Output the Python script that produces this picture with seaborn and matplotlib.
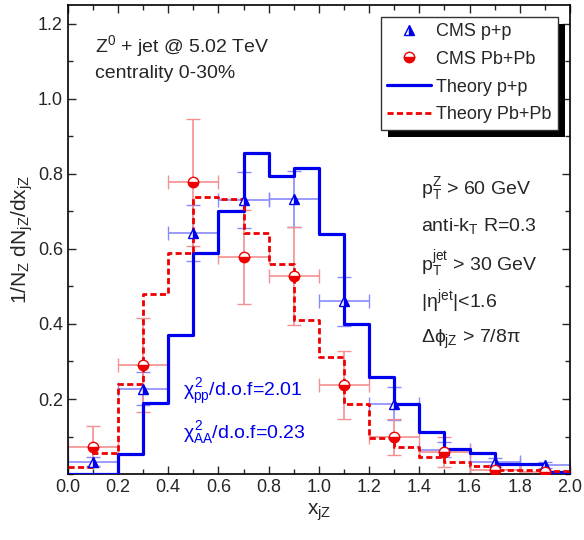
import numpy as np
import pandas as pd
import seaborn as sns
import matplotlib
matplotlib.use('Agg')
import matplotlib.pyplot as plt
from matplotlib.ticker import MultipleLocator
from matplotlib.patches import Rectangle

#========================= Data ===============================================
# theory histograms, bins of width 0.1 from 0 to 2
bin_edges = np.round(np.arange(0, 2.01, 0.1), 2)
theory_pp = [0.0, 0.0, 0.053, 0.19, 0.37, 0.59, 0.70, 0.855, 0.795, 0.815,
             0.64, 0.40, 0.26, 0.186, 0.113, 0.066, 0.055, 0.028, 0.028, 0.006]
theory_aa = [0.018, 0.057, 0.241, 0.479, 0.59, 0.738, 0.733, 0.643, 0.56, 0.41,
             0.312, 0.186, 0.096, 0.072, 0.045, 0.033, 0.021, 0.01, 0.01, 0.008]

# CMS data points
x_cms = [0.1, 0.3, 0.5, 0.7, 0.9, 1.1, 1.3, 1.5, 1.7, 1.9]
cms_pp = [0.033, 0.228, 0.643, 0.73, 0.733, 0.46, 0.188, 0.065, 0.033, 0.025]
cms_pp_err = [0.012, 0.045, 0.075, 0.075, 0.075, 0.065, 0.043, 0.02, 0.01, 0.008]
cms_aa = [0.073, 0.29, 0.777, 0.578, 0.527, 0.238, 0.099, 0.059, 0.01, 0.005]
cms_aa_err = [0.055, 0.125, 0.17, 0.125, 0.13, 0.09, 0.048, 0.04, 0.01, 0.006]

#========================= Plot ===============================================
sns.set_style('ticks')
plt.rcParams['font.family'] = ['Liberation Sans', 'DejaVu Sans']
plt.rcParams['mathtext.fontset'] = 'custom'
plt.rcParams['mathtext.rm'] = 'Liberation Sans'
plt.rcParams['mathtext.it'] = 'Liberation Sans'

fig = plt.figure(figsize=(5.84, 5.40), dpi=100)
ax = fig.add_axes([0.116, 0.122, 0.86, 0.869])

df_pp = pd.DataFrame({'x': bin_edges, 'y': theory_pp + [theory_pp[-1]]})
df_aa = pd.DataFrame({'x': bin_edges, 'y': theory_aa + [theory_aa[-1]]})

ax.errorbar(x_cms, cms_pp, xerr=0.1, yerr=cms_pp_err, fmt='none',
            ecolor='#8a8aff', elinewidth=1.2, capsize=5, zorder=2)
ax.errorbar(x_cms, cms_aa, xerr=0.1, yerr=cms_aa_err, fmt='none',
            ecolor='#f59090', elinewidth=1.2, capsize=5, zorder=2)

sns.lineplot(data=df_pp, x='x', y='y', drawstyle='steps-post', color='#0000ee',
             lw=2.3, ax=ax, label='Theory p+p', zorder=3)
sns.lineplot(data=df_aa, x='x', y='y', drawstyle='steps-post', color='#ee0000',
             lw=2.0, dashes=(2.2, 1.2), ax=ax, label='Theory Pb+Pb', zorder=4)

h_pp, = ax.plot(x_cms, cms_pp, ls='none', marker='^', ms=7.5, color='#0000ee',
                fillstyle='right', markerfacecoloralt='white', mew=1.0,
                label='CMS p+p', zorder=5)
h_aa, = ax.plot(x_cms, cms_aa, ls='none', marker='o', ms=7.5, color='#ee0000',
                fillstyle='bottom', markerfacecoloralt='white', mew=1.0,
                label='CMS Pb+Pb', zorder=5)

ax.set_xlim(0, 2.0)
ax.set_ylim(0, 1.25)
ax.xaxis.set_major_locator(MultipleLocator(0.2))
ax.xaxis.set_minor_locator(MultipleLocator(0.1))
ax.yaxis.set_major_locator(MultipleLocator(0.2))
ax.yaxis.set_minor_locator(MultipleLocator(0.1))
ax.set_yticks([0.2, 0.4, 0.6, 0.8, 1.0, 1.2])
ax.tick_params(which='both', direction='in', top=True, right=True, labelsize=13, width=1.0)
ax.tick_params(which='major', length=6)
ax.tick_params(which='minor', length=3.5)
for sp in ax.spines.values():
    sp.set_linewidth(1.2)
    sp.set_color('black')

ax.set_xlabel(r'x$_{\mathrm{jZ}}$', fontsize=15, labelpad=4)
ax.set_ylabel(r'1/N$_{\mathrm{Z}}$ dN$_{\mathrm{jZ}}$/dx$_{\mathrm{jZ}}$', fontsize=15, labelpad=2)

# annotations
ax.text(0.11, 1.14, r'Z$^{0}$ + jet @ 5.02 TeV', fontsize=14, va='center')
ax.text(0.11, 1.066, 'centrality 0-30%', fontsize=14, va='center')
right_txt = [r'p$_{\mathrm{T}}^{\mathrm{Z}}$ > 60 GeV',
             r'anti-k$_{\mathrm{T}}$ R=0.3',
             r'p$_{\mathrm{T}}^{\mathrm{jet}}$ > 30 GeV',
             r'|$\eta^{\mathrm{jet}}$|<1.6',
             r'$\Delta\phi_{\mathrm{jZ}}$ > 7/8$\pi$']
for i, t in enumerate(right_txt):
    ax.text(1.405, 0.76 - i*0.1, t, fontsize=14, va='center')
ax.text(0.46, 0.218, r'$\chi^{2}_{\mathrm{pp}}$/d.o.f=2.01', fontsize=14, va='center', color='#0000ee')
ax.text(0.46, 0.112, r'$\chi^{2}_{\mathrm{AA}}$/d.o.f=0.23', fontsize=14, va='center', color='#0000ee')

handles, labels = ax.get_legend_handles_labels()
order = [labels.index(l) for l in ['CMS p+p', 'CMS Pb+Pb', 'Theory p+p', 'Theory Pb+Pb']]
leg = ax.legend([handles[i] for i in order], [labels[i] for i in order],
                loc='upper right', bbox_to_anchor=(0.976, 0.975), fontsize=13,
                fancybox=False, framealpha=1, edgecolor='#333333',
                handlelength=2.4, handletextpad=0.3, borderpad=0.35,
                labelspacing=0.6, borderaxespad=0)
leg.get_frame().set_linewidth(1.0)
leg.set_zorder(10)

# black drop shadow behind legend
fig.canvas.draw()
bb = leg.get_window_extent()
shadow = Rectangle((bb.x0 + 7, bb.y0 - 7), bb.width, bb.height, transform=None,
                   facecolor='black', edgecolor='none', zorder=9)
ax.add_artist(shadow)

fig.savefig('out.png', dpi=100)
